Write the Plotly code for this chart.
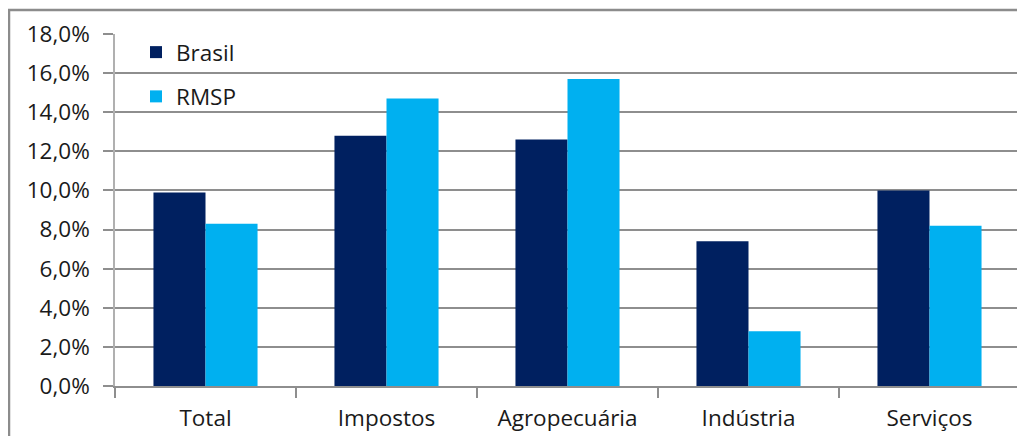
import plotly.graph_objects as go

categories = ["Total", "Impostos", "Agropecuária", "Indústria", "Serviços"]
brasil = [9.9, 12.8, 12.6, 7.4, 10.0]
rmsp = [8.3, 14.7, 15.7, 2.8, 8.2]
series_names = ["Brasil", "RMSP"]
y_ticks = [0, 2, 4, 6, 8, 10, 12, 14, 16, 18]

# page offset (body margin) = 8px
OFF = 8
L, R, T, B = 115 - OFF, 5, 34 - OFF, 50
pw, ph = 905, 352
W, H = L + pw + R, T + ph + B


def px_x(px):
    return (px - OFF - L) / pw


def px_y(py):
    return (T + ph - (py - OFF)) / ph


fig = go.Figure()
fig.add_trace(go.Bar(x=categories, y=[v / 100 for v in brasil], name=series_names[0],
                     marker=dict(color="#002060", line=dict(width=0)), legendgroup="a"))
fig.add_trace(go.Bar(x=categories, y=[v / 100 for v in rmsp], name=series_names[1],
                     marker=dict(color="#00B0F0", line=dict(width=0)), legendgroup="b"))

grid = "#8e8e8e"
fig.update_layout(
    width=W, height=H,
    margin=dict(l=L, r=R, t=T, b=B, autoexpand=False),
    paper_bgcolor="white", plot_bgcolor="white",
    separators=",.",
    barmode="group", bargap=0.425, bargroupgap=0,
    font=dict(family="Open Sans", size=22.5, color="#1a1a1a"),
    showlegend=True,
    legend=dict(x=px_x(136), y=px_y(31), xanchor="left", yanchor="top",
                bgcolor="rgba(0,0,0,0)", tracegroupgap=12, traceorder="grouped",
                font=dict(size=22.5)),
    xaxis=dict(type="category", showline=True, linecolor=grid, linewidth=1.5,
               ticks="outside", ticklen=10, tickcolor=grid, tickwidth=1.5,
               tickson="boundaries", showgrid=False, ticklabelstandoff=11),
    yaxis=dict(range=[0, 0.18], tickvals=[v / 100 for v in y_ticks], tickformat=".1%",
               showgrid=True, gridcolor=grid, gridwidth=1.5, zeroline=False,
               showline=True, linecolor="#b0b0b0", linewidth=1.5,
               ticks="outside", ticklen=10, tickcolor=grid, tickwidth=1.5,
               ticklabelstandoff=9),
    shapes=[
        dict(type="line", xref="paper", yref="paper",
             x0=px_x(8), x1=px_x(1040), y0=px_y(10), y1=px_y(10),
             line=dict(color="#8c8c8c", width=2.5)),
        dict(type="line", xref="paper", yref="paper",
             x0=px_x(9), x1=px_x(9), y0=px_y(10), y1=px_y(480),
             line=dict(color="#8c8c8c", width=2.5)),
    ],
)

fig.write_html("out.html")
